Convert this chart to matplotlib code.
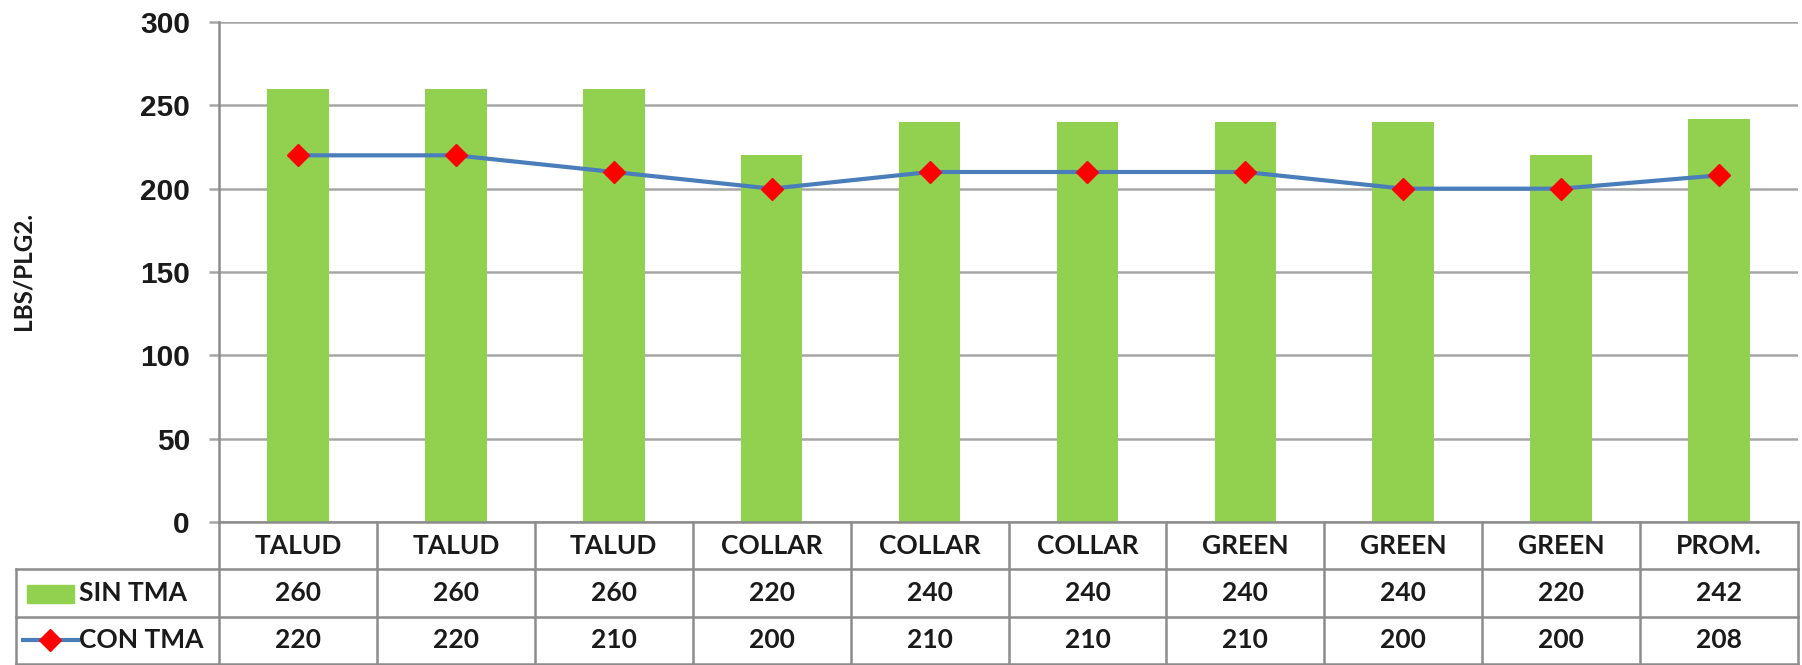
import matplotlib.pyplot as plt
from matplotlib.patches import Rectangle
from matplotlib.lines import Line2D

# data
categories = ['TALUD', 'TALUD', 'TALUD', 'COLLAR', 'COLLAR', 'COLLAR',
              'GREEN', 'GREEN', 'GREEN', 'PROM.']
sin_tma = [260, 260, 260, 220, 240, 240, 240, 240, 220, 242]
con_tma = [220, 220, 210, 200, 210, 210, 210, 200, 200, 208]
series_names = ['SIN TMA', 'CON TMA']

green = '#92d050'
blue = '#4a7ebb'
red = '#ff0000'
grid_col = '#a6a6a6'
line_col = '#8c8c8c'
txt = '#1a1a1a'

W, H = 1802, 665
fig = plt.figure(figsize=(W / 100, H / 100), dpi=100)

# pixel layout of the chart
left, right, top, zero = 219, 1798, 22, 522
tab_left, tab_bottom = 16, 664
n = len(categories)
colw = (right - left) / n
lw_cols = (left - tab_left) / colw

ax = fig.add_axes([left / W, 1 - zero / H, (right - left) / W, (zero - top) / H])
x = list(range(n))
ax.bar(x, sin_tma, width=0.39, color=green, zorder=2)
ax.plot(x, con_tma, color=blue, lw=3, marker='D', ms=11,
        mfc=red, mec=red, zorder=3)
ax.set_xlim(-0.5, n - 0.5)
ax.set_ylim(0, 300)
ax.set_yticks([0, 50, 100, 150, 200, 250, 300])
ax.yaxis.grid(True, color=grid_col, lw=1.8)
ax.set_axisbelow(True)
for s in ['top', 'right', 'bottom']:
    ax.spines[s].set_visible(False)
ax.spines['left'].set_color(line_col)
ax.spines['left'].set_linewidth(1.8)
ax.set_xticks([])
ax.tick_params(axis='y', length=7.5, width=1.8, color=grid_col, pad=13.5,
               labelsize=21.5, labelcolor=txt)
for lab in ax.get_yticklabels():
    lab.set_fontfamily('Liberation Sans')
    lab.set_fontweight('bold')

fig.text(23 / W, 1 - 271 / H, 'LBS/PLG2.', rotation=90, ha='center',
         va='center', fontsize=17.5, fontweight='bold', family='Lato', color=txt)

# data table below the plot
tab = fig.add_axes([tab_left / W, 1 - tab_bottom / H, (right - tab_left) / W,
                    (tab_bottom - zero) / H])
x0 = -0.5 - lw_cols
tab.set_xlim(x0, n - 0.5)
tab.set_ylim(3, 0)
tab.axis('off')
lk = dict(color=line_col, lw=1.8, solid_capstyle='projecting', clip_on=False)
tab.plot([-0.5, n - 0.5], [0, 0], **lk)
for r in [1, 2, 3]:
    tab.plot([x0, n - 0.5], [r, r], **lk)
for i in range(n + 1):
    tab.plot([i - 0.5, i - 0.5], [0, 3], **lk)
tab.plot([x0, x0], [1, 3], **lk)

fs = 19
for i, c in enumerate(categories):
    tab.text(i, 0.5, c, ha='center', va='center', fontsize=fs,
             fontweight='bold', family='Lato', color=txt)
    tab.text(i, 1.5, str(sin_tma[i]), ha='center', va='center', fontsize=fs,
             fontweight='bold', family='Lato', color=txt)
    tab.text(i, 2.5, str(con_tma[i]), ha='center', va='center', fontsize=fs,
             fontweight='bold', family='Lato', color=txt)

# legend keys inside the label column
tab.add_patch(Rectangle((x0 + 0.07, 1.34), 0.30, 0.38, color=green))
tab.add_line(Line2D([x0 + 0.045, x0 + 0.39], [2.5, 2.5], color=blue, lw=3))
tab.plot([x0 + 0.215], [2.5], marker='D', ms=11, mfc=red, mec=red)
tab.text(x0 + 0.40, 1.5, series_names[0], ha='left', va='center', fontsize=fs,
         fontweight='bold', family='Lato', color=txt)
tab.text(x0 + 0.40, 2.5, series_names[1], ha='left', va='center', fontsize=fs,
         fontweight='bold', family='Lato', color=txt)

fig.savefig('out.png', dpi=100)
